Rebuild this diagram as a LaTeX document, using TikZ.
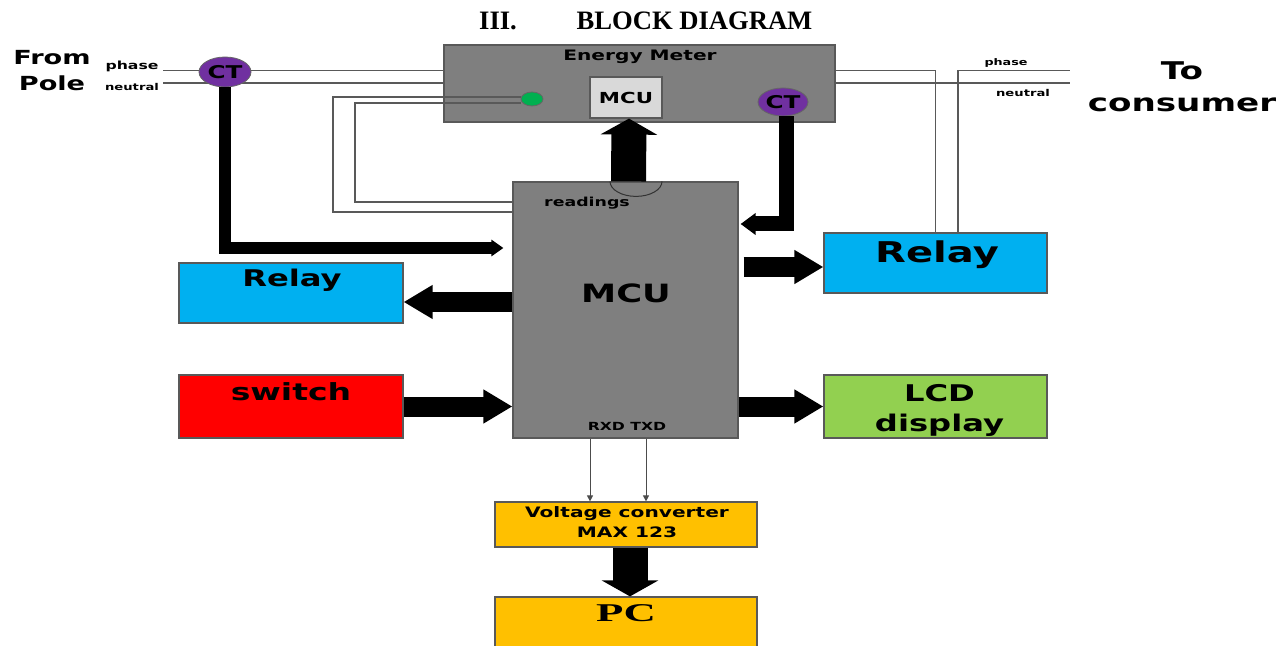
\documentclass[tikz,border=0pt]{standalone}
\usepackage{fontspec}
\setmainfont{Liberation Serif}
\setsansfont{DejaVu Sans}
\usepackage{graphicx}
\usepackage{tikz}
\usetikzlibrary{positioning, arrows.meta, shapes.geometric}

\definecolor{meterGray}{HTML}{7F7F7F}
\definecolor{chipGray}{HTML}{D9D9D9}
\definecolor{relayBlue}{HTML}{00B0F0}
\definecolor{switchRed}{HTML}{FF0000}
\definecolor{lcdGreen}{HTML}{92D050}
\definecolor{convOrange}{HTML}{FFC000}
\definecolor{ctPurple}{HTML}{7030A0}
\definecolor{ledGreen}{HTML}{00B050}

\newcommand{\stretched}[2][1.4]{\scalebox{#1}[1]{#2}}

\tikzset{
    block/.style={draw=black!65, line width=0.6pt, inner sep=0pt},
    txt/.style={inner sep=0pt, font=\sffamily\bfseries\fontsize{#1}{#1}\selectfont},
    wire/.style={draw=black!65, line width=0.6pt},
    bigarrow/.style={line width=10pt, -{Triangle[width=16pt, length=14.5pt]}},
    fatarrow/.style={line width=17.5pt, -{Triangle[width=28pt, length=8pt]}},
    ctnode/.style={ellipse, draw=black!60, fill=ctPurple, inner sep=0pt, txt=8.8pt}
}

\begin{document}
\begin{tikzpicture}[x=0.5pt, y=-0.5pt]
    \useasboundingbox (0,0) rectangle (1284,646);
    \node (secnum) [anchor=base, font=\bfseries\fontsize{13.3pt}{13.3pt}\selectfont] at (498,30) {III.};
    \node (title) [anchor=base, font=\bfseries\fontsize{13.3pt}{13.3pt}\selectfont] at (694.5,30) {BLOCK DIAGRAM};

    % energy meter
    \node (meter) [block, fill=meterGray, minimum width=195.5pt, minimum height=38.5pt] at (639.5,83.5) {};
    \node (meterTxt) [txt=7.2pt, anchor=base] at ([xshift=0.25pt, yshift=-8pt]meter.north) {\stretched{Energy Meter}};
    \node (chip) [block, fill=chipGray, minimum width=36pt, minimum height=20.5pt, txt=7.6pt] at (626,97.5) {\stretched{MCU}};
    \node (led) [ellipse, draw=black!60, fill=ledGreen, minimum width=11pt, minimum height=7pt, inner sep=0pt] at (532,99) {};

    % blocks
    \node (mcu) [block, fill=meterGray, minimum width=112.5pt, minimum height=128pt] at (625.5,310) {};
    \node (relayL) [block, fill=relayBlue, minimum width=112pt, minimum height=30pt] at (291,293) {};
    \node (switch) [block, fill=switchRed, minimum width=112pt, minimum height=31.5pt] at (291,406.5) {};
    \node (relayR) [block, fill=relayBlue, minimum width=111.5pt, minimum height=30pt] at (935.5,263) {};
    \node (lcd) [block, fill=lcdGreen, minimum width=111.5pt, minimum height=31.5pt] at (935.5,406.5) {};
    \node (conv) [block, fill=convOrange, minimum width=131pt, minimum height=22.5pt] at (626,524.5) {};
    \node (pc) [block, fill=convOrange, minimum width=131pt, minimum height=32pt] at (626,629) {};

    % block texts
    \node (mcuTxt) [txt=12.6pt, anchor=base] at ([xshift=0.25pt, yshift=-60.5pt]mcu.north) {\stretched{MCU}};
    \node (readTxt) [txt=6.2pt, anchor=base] at ([xshift=-19.25pt, yshift=-12.5pt]mcu.north) {\stretched{readings}};
    \node (serialTxt) [txt=5.6pt, anchor=base] at ([xshift=0.75pt, yshift=4pt]mcu.south) {\stretched{RXD TXD}};
    \node (relayLTxt) [txt=11.5pt, anchor=base] at ([xshift=0.5pt, yshift=-12pt]relayL.north) {\stretched{Relay}};
    \node (switchTxt) [txt=11.8pt, anchor=base] at ([yshift=-13pt]switch.north) {\stretched{switch}};
    \node (relayRTxt) [txt=14.3pt, anchor=base] at ([xshift=0.75pt, yshift=-15pt]relayR.north) {\stretched{Relay}};
    \node (lcdTxt) [txt=11.5pt, anchor=base] at ([xshift=2pt, yshift=-13.5pt]lcd.north) {\stretched{LCD}};
    \node (dispTxt) [txt=11.5pt, anchor=base] at ([xshift=2pt, yshift=-28.5pt]lcd.north) {\stretched{display}};
    \node (convTxt) [txt=7.2pt, anchor=base] at ([xshift=0.5pt, yshift=-8pt]conv.north) {\stretched{Voltage converter}};
    \node (maxTxt) [txt=7.2pt, anchor=base] at ([xshift=0.5pt, yshift=-18pt]conv.north) {\stretched{MAX 123}};
    \node (pcTxt) [anchor=base, font=\bfseries\fontsize{12.8pt}{12.8pt}\selectfont] at ([yshift=-12.5pt]pc.north) {\stretched[1.75]{PC}};

    % supply side
    \node (fromTxt) [txt=9.7pt, anchor=base] at (52,65) {\stretched{From}};
    \node (poleTxt) [txt=9.7pt, anchor=base] at (52,91) {\stretched{Pole}};
    \node (phaseL) [txt=5.6pt, anchor=base] at (132,70) {\stretched{phase}};
    \node (neutralL) [txt=4.7pt, anchor=base] at (132,90.5) {\stretched{neutral}};
    \node (phaseR) [txt=4.55pt, anchor=base] at (1006,66) {\stretched{phase}};
    \node (neutralR) [txt=4.7pt, anchor=base] at (1023,96.5) {\stretched{neutral}};
    \node (toTxt) [txt=12.2pt, anchor=base] at (1182,80) {\stretched{To}};
    \node (consTxt) [txt=12.2pt, anchor=base] at (1182,112) {\stretched{consumer}};

    \coordinate (poleP) at (163,70.7);
    \coordinate (poleN) at (163,83);
    \coordinate (consP) at (1070,70.7);
    \coordinate (consN) at (1070,83);
    \coordinate (ledOut) at (333,212);
    \coordinate (ledIn) at (355,202);

    \draw [wire] (poleP) -- (poleP -| meter.west);
    \draw [wire] (poleN) -- (poleN -| meter.west);
    \draw [wire] (poleP -| meter.east) -| (relayR.north);
    \draw [wire] ([xshift=11.25pt]relayR.north) |- (consP);
    \draw [wire] (poleN -| meter.east) -- (consN);
    \draw [wire] ([yshift=1pt]led.west) -| (ledOut) -- (ledOut -| mcu.west);
    \draw [wire] ([yshift=-2pt]led.west) -| (ledIn) -- (ledIn -| mcu.west);

    % current transformers
    \node (ctL) [ctnode, minimum width=26pt, minimum height=15pt] at (225,72) {\stretched{CT}};
    \node (ctR) [ctnode, minimum width=25pt, minimum height=14pt] at (783,102) {\stretched{CT}};

    \draw [line width=6pt, -{Triangle[width=8pt, length=6pt]}] (ctL.south) |- ([xshift=-4.5pt, yshift=31pt]mcu.west);
    \draw [line width=7.5pt, -{Triangle[width=10.5pt, length=7.5pt]}] ([xshift=1.5pt]ctR.south) |- ([xshift=1pt, yshift=43pt]mcu.east);

    % data arrows
    \draw [fatarrow] ([xshift=1.5pt]mcu.north) -- ([xshift=1.5pt]chip.south);
    \draw [black!80, line width=0.5pt] ([xshift=-7.75pt]mcu.north) arc (180:360:13pt and 7.5pt);
    \draw [bigarrow] ([yshift=4pt]mcu.west) -- ([yshift=4pt]mcu.west -| relayL.east);
    \draw [bigarrow] (switch.east) -- (switch.east -| mcu.west);
    \draw [bigarrow] ([xshift=2.5pt, yshift=-2pt]mcu.east |- relayR.west) -- ([yshift=-2pt]relayR.west);
    \draw [bigarrow] (mcu.east |- lcd.west) -- (lcd.west);
    \draw [-{Triangle[width=3pt, length=3pt]}, black!70, line width=0.5pt] ([xshift=-17.75pt]mcu.south) -- ([xshift=-17.75pt]mcu.south |- conv.north);
    \draw [-{Triangle[width=3pt, length=3pt]}, black!70, line width=0.5pt] ([xshift=10.25pt]mcu.south) -- ([xshift=10.25pt]mcu.south |- conv.north);
    \draw [fatarrow] ([xshift=2pt]conv.south) -- ([xshift=2pt]pc.north);
\end{tikzpicture}
\end{document}
